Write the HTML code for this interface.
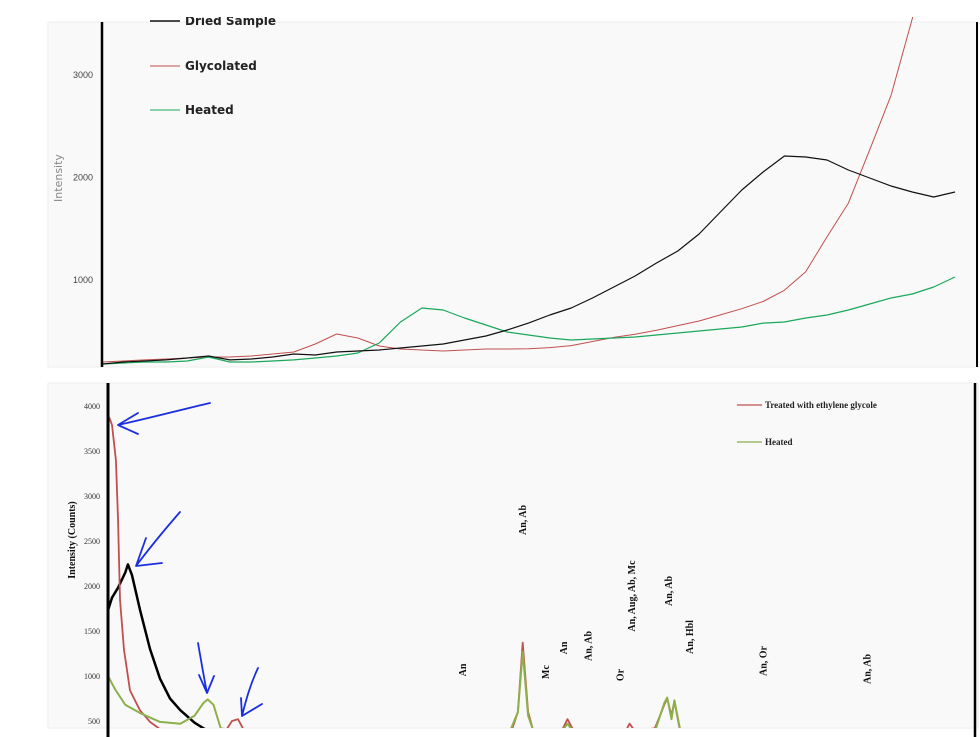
<!DOCTYPE html>
<html><head><meta charset="utf-8"><style>
html,body{margin:0;padding:0;background:#fff;width:980px;height:737px;overflow:hidden}
svg{display:block}
</style></head><body>
<svg id="c" width="980" height="737" xmlns="http://www.w3.org/2000/svg">
<defs>
<clipPath id="ct"><rect x="103" y="17" width="873" height="350"/></clipPath>
<clipPath id="cb"><rect x="109" y="383" width="866" height="345"/></clipPath>
</defs>
<rect x="48" y="22" width="930" height="345" fill="#f9f9f9" stroke="#eee"/>
<rect x="48" y="383" width="930" height="345" fill="#f9f9f9" stroke="#eee"/>
<g id="topg"></g>
<g id="botg"></g>
</svg>
<script>
// ---- Top chart data (2θ vs intensity) ----
const topX = [2,2.25,2.5,2.75,3,3.25,3.5,3.75,4,4.25,4.5,4.75,5,5.25,5.5,5.75,6,6.25,6.5,6.75,7,7.25,7.5,7.75,8,8.25,8.5,8.75,9,9.25,9.5,9.75,10,10.25,10.5,10.75,11,11.25,11.5,11.75,12];
const driedVals = [180,200,210,220,239,259,220,229,249,278,268,298,307,317,337,356,376,415,454,512,580,659,727,824,932,1039,1166,1283,1449,1663,1878,2054,2210,2200,2171,2073,1995,1917,1859,1810,1859];
const glycolVals = [200,210,220,229,239,249,249,259,278,298,376,473,434,356,327,317,307,317,327,327,330,340,360,400,440,470,510,555,600,660,720,790,900,1080,1420,1750,2270,2800,3550,4300,5000];
const heatedVals = [180,190,200,200,210,249,200,200,210,220,239,259,288,385,590,727,707,629,561,493,463,434,415,424,434,444,463,483,502,522,541,580,590,629,659,707,766,824,863,932,1029];
const topTicks = [1000,2000,3000];
const topTickLabels = ["1000","2000","3000"];
// ---- Bottom chart data ----
const redX = [3.0,3.14,3.28,3.55,3.69,3.83,4.11,4.52,5.21,5.91,6.6,7.29,9.37,11.1,11.58,12.0,12.4,12.83,30.8,31.37,31.7,32.07,32.5,34.3,34.8,35.3,38.8,39.1,39.5,40.85,41.5,41.7,42.0,42.2,42.6,44,62];
const redVals = [3900,3850,3790,3400,2750,1850,1290,840,620,490,410,360,330,380,500,520,400,340,330,600,1370,600,350,360,520,370,380,470,380,420,680,750,560,720,380,340,330];
const greenX = [3.0,3.5,4.2,5.2,6.6,8.0,9.0,9.6,9.9,10.3,10.8,12,30.8,31.37,31.7,32.07,32.5,34.3,34.8,35.3,40.8,41.5,41.7,42.0,42.2,42.6,44];
const greenVals = [1000,850,680,590,490,470,560,700,740,680,420,380,380,600,1270,560,360,360,470,360,360,700,760,520,730,400,350];
const blackX = [3.0,3.28,3.69,4.2,4.38,4.66,5.21,5.91,6.6,7.29,8.0,9.0,9.7];
const blackVals = [1730,1870,1980,2150,2240,2120,1740,1300,970,750,620,480,410];
const botTicks = [500,1000,1500,2000,2500,3000,3500,4000];
const peakLabels = ["An","An, Ab","Mc","An","An, Ab","Or","An, Aug, Ab, Mc","An, Ab","An, Hbl","An, Or","An, Ab"];
const peakPos = [27.5,31.65,33.24,34.5,36.2,38.4,39.2,41.75,43.2,48.3,55.5];
const peakHeights = [1067,2733,1044,1311,1333,1011,1889,1944,1433,1167,1078];

const NS="http://www.w3.org/2000/svg";
function mk(t,a,p){const e=document.createElementNS(NS,t);for(const k in a)e.setAttribute(k,a[k]);p.appendChild(e);return e;}
const topG=document.getElementById('topg'), botG=document.getElementById('botg');
const tx=v=>102+(v-2)/10*853, ty=v=>280-(v-1000)*0.1025;
function line(xs,ys,fx,fy,col,w,parent,clip,name){
  let d=xs.map((x,i)=>(i?'L':'M')+fx(x).toFixed(1)+','+fy(ys[i]).toFixed(1)).join('');
  const p=mk('path',{d:d,fill:'none',stroke:col,'stroke-width':w,'clip-path':clip,'stroke-linejoin':'round'},parent);
  
  
}
line(topX,glycolVals,tx,ty,'#c0504d',1,topG,'url(#ct)','glycolated-line');
line(topX,heatedVals,tx,ty,'#1aa85a',1.2,topG,'url(#ct)','heated-line');
line(topX,driedVals,tx,ty,'#111',1.2,topG,'url(#ct)','dried-sample-line');
let ax=mk('line',{x1:102,y1:22,x2:102,y2:367,stroke:'#000','stroke-width':2.5},topG);


ax=mk('line',{x1:977,y1:22,x2:977,y2:367,stroke:'#000','stroke-width':2},topG);


topTicks.forEach((v,i)=>{
  const t=mk('text',{x:93,y:ty(v)+3,'text-anchor':'end','font-family':'Liberation Sans, sans-serif','font-size':9,fill:'#444'},topG);
  t.textContent=topTickLabels[i];
  
  
});
let tt=mk('text',{transform:'translate(62,178) rotate(-90)','text-anchor':'middle','font-family':'DejaVu Sans, sans-serif','font-size':11,fill:'#888'},topG);
tt.textContent='Intensity';


const leg=[['Dried Sample','#111',21],['Glycolated','#c0504d',66],['Heated','#1aa85a',110]];
const lg=mk('g',{'clip-path':'url(#ct)'},topG);
leg.forEach(l=>{
  const g=mk('g',{},lg);
  
  
  mk('line',{x1:150,y1:l[2],x2:180,y2:l[2],stroke:l[1],'stroke-width':l[0]==='Dried Sample'?1.5:1},g);
  const t=mk('text',{x:185,y:l[2]+4,'font-family':'DejaVu Sans, sans-serif','font-size':12,'font-weight':'bold',fill:'#222'},g);
  t.textContent=l[0];
});
const bx=v=>108+(v-3)*14.45, by=v=>721-(v-500)*0.09;
line(blackX,blackVals,bx,by,'#000',2.5,botG,'url(#cb)','dried-line');
line(redX,redVals,bx,by,'#c0504d',1.8,botG,'url(#cb)','glycole-line');
line(greenX,greenVals,bx,by,'#8db04a',2,botG,'url(#cb)','heated-line-bottom');
ax=mk('line',{x1:108,y1:383,x2:108,y2:737,stroke:'#000','stroke-width':3},botG);


ax=mk('line',{x1:975,y1:383,x2:975,y2:737,stroke:'#000','stroke-width':2.5},botG);


botTicks.forEach(v=>{
  const t=mk('text',{x:100,y:by(v)+3,'text-anchor':'end','font-family':'Liberation Serif, serif','font-size':8,fill:'#333'},botG);
  t.textContent=String(v);
  
  
});
tt=mk('text',{transform:'translate(75,540) rotate(-90)','text-anchor':'middle','font-family':'Liberation Serif, serif','font-size':10,'font-weight':'bold',fill:'#111'},botG);
tt.textContent='Intensity (Counts)';


peakLabels.forEach((s,i)=>{
  const x=bx(peakPos[i]), y=by(peakHeights[i]);
  const t=mk('text',{transform:`translate(${(x+4).toFixed(1)},${y.toFixed(1)}) rotate(-90)`,'text-anchor':'middle','font-family':'Liberation Serif, serif','font-size':10,'font-weight':'bold',fill:'#111'},botG);
  t.textContent=s;
  
  
});
const bl=[['Treated with ethylene glycole','#c0504d',405],['Heated','#8db04a',442]];
bl.forEach(l=>{
  const g=mk('g',{},botG);
  
  
  mk('line',{x1:737,y1:l[2],x2:762,y2:l[2],stroke:l[1],'stroke-width':1.2},g);
  const t=mk('text',{x:765,y:l[2]+3,'font-family':'Liberation Serif, serif','font-size':9,'font-weight':'bold',fill:'#222'},g);
  t.textContent=l[0];
});
const arrows=["M210,403 C180,410 150,418 118,425 M138,413 L118,425 L138,434",
"M180,512 C160,535 148,550 136,566 M146,538 L136,566 L162,563",
"M198,643 C201,660 204,678 207,693 M199,675 L207,693 L214,676",
"M258,668 C250,685 246,700 242,716 M241,698 L242,716 L262,704"];
arrows.forEach(d=>{
  const p=mk('path',{d:d,fill:'none',stroke:'#1a2ee0','stroke-width':1.8,'stroke-linecap':'round','stroke-linejoin':'round'},botG);
  
  
});
</script>
</body></html>
